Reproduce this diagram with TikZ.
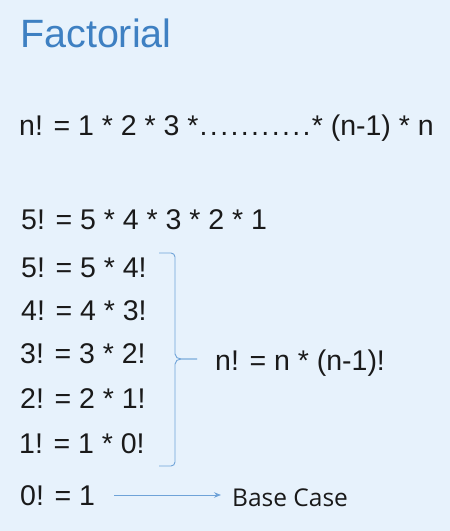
\documentclass[tikz,border=0pt]{standalone}
\usepackage{fontspec}
\setmainfont{Liberation Sans}
\newfontfamily\bcfont{Open Sans}
\usetikzlibrary{arrows.meta}
\definecolor{bg}{HTML}{E7F2FC}
\definecolor{titleblue}{HTML}{3E80C2}
\definecolor{linkblue}{HTML}{6FA3D8}
\definecolor{ink}{HTML}{1A1A1A}
\newcommand{\onedot}{\makebox[10.3pt][c]{.}}
\newcommand{\dotrun}{\onedot\onedot\onedot\onedot\onedot\onedot\onedot\onedot\onedot\onedot\onedot}
\tikzset{
  txt/.style={anchor=base west, inner sep=0pt, text=ink, font=\fontsize{28.5}{34}\selectfont},
  ttl/.style={anchor=base west, inner sep=0pt, text=titleblue, font=\fontsize{39.5}{46}\selectfont},
  bctxt/.style={anchor=base west, inner sep=0pt, text=ink, font=\bcfont\fontsize{24.5}{30}\selectfont},
  brace/.style={draw=linkblue, line width=0.9pt},
  arr/.style={draw=linkblue, line width=0.9pt, -{Stealth[length=7pt,width=5.5pt]}}
}
\begin{document}
\begin{tikzpicture}[x=1pt,y=-1pt]
\fill[bg] (0,0) rectangle (450,531);
\useasboundingbox (0,0) rectangle (450,531);
\node[ttl] (title) at (20,47.5) {Factorial};
\node[txt] (gen) at (19,135) {n! = 1 * 2 * 3 *\dotrun* (n-1) * n};
\node[txt] (five) at (21,229) {5! = 5 * 4 * 3 * 2 * 1};
\node[txt] (r5) at (21,277) {5! = 5 * 4!};
\node[txt] (r4) at (21,320) {4! = 4 * 3!};
\node[txt] (r3) at (20,363.5) {3! = 3 * 2!};
\node[txt] (r2) at (20,408) {2! = 2 * 1!};
\node[txt] (r1) at (19,453) {1! = 1 * 0!};
\node[txt] (r0) at (20,505) {0! = 1};
\node[txt] (rec) at (215,370) {n! = n * (n-1)!};
\node[bctxt] (bc) at (232,506) {Base Case};
% brace
\coordinate (btop) at (159,253);
\coordinate (btip) at (197,359);
\coordinate (bbot) at (159,466);
\draw[brace] (btop) -- (171,253) to[out=0,in=90] (175,257) -- (175,354)
  to[out=-90,in=180] (181,359) -- (btip);
\draw[brace] (btip) -- (181,359) to[out=180,in=90] (175,364) -- (175,462)
  to[out=-90,in=0] (171,466) -- (bbot);
% arrow
\coordinate (astart) at (114,495);
\coordinate (aend) at (221,495);
\draw[arr] (astart) -- (aend);
\end{tikzpicture}
\end{document}
